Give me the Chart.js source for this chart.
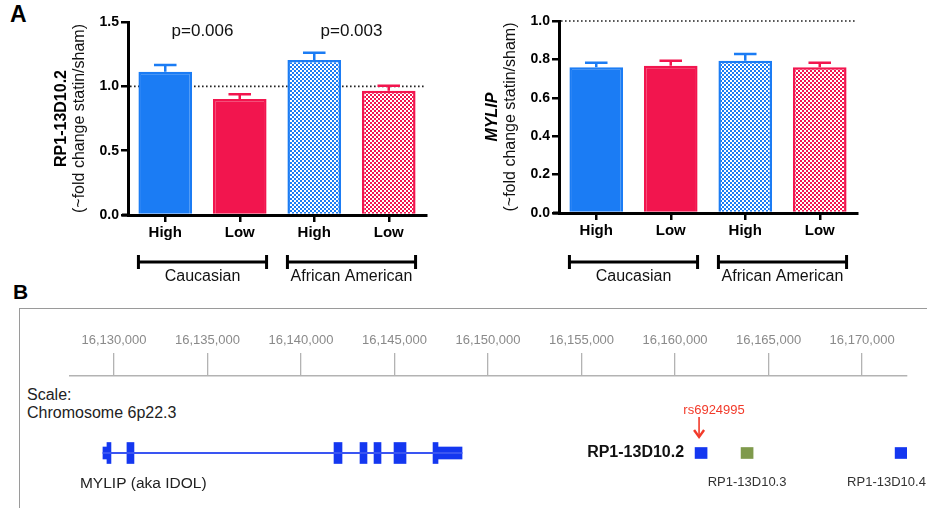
<!DOCTYPE html>
<html>
<head>
<meta charset="utf-8">
<script src="https://cdn.jsdelivr.net/npm/chart.js@4.4.1/dist/chart.umd.min.js"></script>
<style>
  html, body { margin: 0; padding: 0; background: #fff; }
  body { width: 927px; height: 508px; position: relative; overflow: hidden;
         font-family: "Liberation Sans", Arial, sans-serif; }
  canvas { position: absolute; }
  .txt { position: absolute; line-height: 1; white-space: nowrap; color: #111; }
  #box { position: absolute; left: 19px; top: 308px; width: 920px; height: 220px;
         border-left: 1.5px solid #9a9a9a; border-top: 1.5px solid #9a9a9a; }
</style>
</head>
<body>
<div id="box"></div>
<div class="txt" style="left:10px;top:3px;font-size:23px;font-weight:bold;color:#000">A</div>
<div class="txt" style="left:13px;top:281px;font-size:21px;font-weight:bold;color:#000">B</div>
<div class="txt" style="left:27px;top:387px;font-size:16px;color:#222">Scale:</div>
<div class="txt" style="left:27px;top:405px;font-size:16px;color:#222">Chromosome 6p22.3</div>
<canvas id="c1" width="450" height="290" style="left:0;top:0"></canvas>
<canvas id="c2" width="467" height="290" style="left:460px;top:0"></canvas>
<canvas id="c3" width="927" height="208" style="left:0;top:300px"></canvas>
<script>
// ---------- Panel A data ----------
const categories   = ['High', 'Low', 'High', 'Low'];
const groupLabels  = ['Caucasian', 'African American'];
const rpValues     = [1.113, 0.902, 1.204, 0.965];
const rpErrors     = [0.053, 0.036, 0.057, 0.040];
const rpTicks      = [0, 0.5, 1.0, 1.5];
const rpPLabels    = ['p=0.006', 'p=0.003'];
const mylipValues  = [0.759, 0.767, 0.793, 0.759];
const mylipErrors  = [0.024, 0.026, 0.035, 0.024];
const mylipTicks   = [0, 0.2, 0.4, 0.6, 0.8, 1.0];

// ---------- Panel B data ----------
const genomeTicks  = [16130000, 16135000, 16140000, 16145000, 16150000, 16155000, 16160000, 16165000, 16170000];
const genomeRange  = [16127650, 16172400];
const mylipSpan    = [16129412, 16148610];
const mylipUTRs    = [[16129412, 16129640], [16147326, 16148610]];
const mylipExons   = [[16129626, 16129840], [16130695, 16131070], [16141765, 16142193], [16143155, 16143529],
                      [16143904, 16144278], [16144973, 16145615], [16147059, 16147326]];
const rp2Locus     = [16161070, 16161711];
const rp3Locus     = [16163529, 16164171];
const rp4Locus     = [16171765, 16172406];
const snpName      = 'rs6924995';
const snpPos       = 16161283;
const TRACK        = 5;

Chart.defaults.font.family = '"Liberation Sans", Arial, sans-serif';
Chart.defaults.color = '#000';

const BLUE = '#1b7cf4', RED = '#f2154e';
const FONT = '"Liberation Sans", Arial, sans-serif';

function checker(ctx, color) {
  const c = document.createElement('canvas');
  c.width = 4; c.height = 4;
  const g = c.getContext('2d');
  g.fillStyle = '#fff'; g.fillRect(0, 0, 4, 4);
  g.fillStyle = color; g.fillRect(0, 0, 2, 2); g.fillRect(2, 2, 2, 2);
  return ctx.createPattern(c, 'repeat');
}

function panelA(id, values, errors, ticks, yMax, padding, yWidth, xHeight,
                titleMain, italic, pLabels, pY, brOff, lblOff) {
  const ctx = document.getElementById(id).getContext('2d');
  const fills = [BLUE, RED, checker(ctx, BLUE), checker(ctx, RED)];
  const edges = [BLUE, RED, BLUE, RED];
  const decor = {
    id: 'decor',
    beforeDatasetsDraw(chart) {
      const c = chart.ctx, ca = chart.chartArea, y = chart.scales.y.getPixelForValue(1);
      c.save();
      c.strokeStyle = '#222'; c.lineWidth = 1.6; c.setLineDash([1.6, 2.4]);
      c.beginPath(); c.moveTo(ca.left + 2, y); c.lineTo(ca.right, y); c.stroke();
      c.restore();
    },
    afterDatasetsDraw(chart) {
      const c = chart.ctx, ys = chart.scales.y;
      const meta = chart.getDatasetMeta(0);
      c.save();
      c.lineWidth = 2.5;
      meta.data.forEach((bar, i) => {
        const top = ys.getPixelForValue(values[i] + errors[i]);
        const hw = bar.width * 0.21;
        c.strokeStyle = edges[i];
        c.beginPath();
        c.moveTo(bar.x, bar.y); c.lineTo(bar.x, top);
        c.moveTo(bar.x - hw, top); c.lineTo(bar.x + hw, top);
        c.stroke();
      });
      c.restore();
    },
    afterDraw(chart) {
      const c = chart.ctx, ca = chart.chartArea, ys = chart.scales.y;
      const meta = chart.getDatasetMeta(0).data;
      c.save();
      // short extension of the x axis line left of the y axis
      c.strokeStyle = '#000'; c.lineWidth = 3;
      c.beginPath(); c.moveTo(ca.left - 6, ca.bottom); c.lineTo(ca.left, ca.bottom); c.stroke();
      // group brackets
      c.fillStyle = '#111';
      for (let g = 0; g < groupLabels.length; g++) {
        const a = meta[2 * g], b = meta[2 * g + 1];
        const x1 = a.x - a.width / 2, x2 = b.x + b.width / 2, y = ca.bottom + brOff;
        c.beginPath();
        c.moveTo(x1, y); c.lineTo(x2, y);
        c.moveTo(x1, y - 7); c.lineTo(x1, y + 7);
        c.moveTo(x2, y - 7); c.lineTo(x2, y + 7);
        c.stroke();
        c.font = '16px ' + FONT; c.textAlign = 'center'; c.textBaseline = 'middle';
        c.fillText(groupLabels[g], (x1 + x2) / 2, ca.bottom + lblOff);
      }
      // p-values
      if (pLabels) {
        c.font = '17px ' + FONT; c.fillStyle = '#111';
        for (let g = 0; g < pLabels.length; g++) {
          const x = (meta[2 * g].x + meta[2 * g + 1].x) / 2;
          c.fillText(pLabels[g], x, ys.getPixelForValue(pY));
        }
      }
      // y titles
      c.translate(ca.left - 66, (ca.top + ca.bottom) / 2);
      c.rotate(-Math.PI / 2);
      c.textAlign = 'center'; c.textBaseline = 'middle'; c.fillStyle = '#000';
      c.font = (italic ? 'italic ' : '') + 'bold 16px ' + FONT;
      c.fillText(titleMain, 0, 0);
      c.font = '16px ' + FONT; c.fillStyle = '#111';
      c.fillText('(~fold change statin/sham)', 0, 18);
      c.restore();
    }
  };
  return new Chart(ctx, {
    type: 'bar',
    data: { labels: categories, datasets: [{
      data: values, backgroundColor: fills, borderColor: edges, borderWidth: 2.5,
      categoryPercentage: 1, barPercentage: 0.72, borderSkipped: 'start'
    }]},
    options: {
      responsive: false, animation: false,
      layout: { padding },
      plugins: { legend: { display: false }, tooltip: { enabled: false } },
      scales: {
        x: {
          grid: { drawOnChartArea: false, offset: false, tickLength: 7, color: '#000', lineWidth: 2.5 },
          border: { color: '#000', width: 3 },
          ticks: { font: { size: 15, weight: 'bold' }, color: '#000', padding: 2 },
          afterFit(s) { s.height = xHeight; }
        },
        y: {
          min: 0, max: yMax,
          afterBuildTicks(s) { s.ticks = ticks.map(v => ({ value: v })); },
          grid: { drawOnChartArea: false, tickLength: 7, color: '#000', lineWidth: 2.5 },
          border: { color: '#000', width: 3 },
          ticks: { font: { size: 14, weight: 'bold' }, color: '#000', padding: 2,
                   callback: v => Number(v).toFixed(1) },
          afterFit(s) { s.width = yWidth; }
        }
      }
    },
    plugins: [decor]
  });
}

panelA('c1', rpValues, rpErrors, rpTicks, 1.5, { left: 0, top: 22, right: 24, bottom: 0 }, 128, 75,
       'RP1-13D10.2', false, rpPLabels, 1.43, 47, 62);
panelA('c2', mylipValues, mylipErrors, mylipTicks, 1.0, { left: 0, top: 21, right: 70, bottom: 0 }, 99, 77,
       'MYLIP', true, null, 0, 49, 64);

// ---------- Panel B: genome track ----------
const EXON_BLUE = '#1437f0', LINE_BLUE = '#3a55f2', GREEN = '#7f9a4c';
const pt = arr => ({ x: arr, y: TRACK });
const trackDecor = {
  id: 'trackDecor',
  afterDatasetsDraw(chart) {
    const c = chart.ctx, xs = chart.scales.x, ys = chart.scales.y;
    const ty = ys.getPixelForValue(TRACK);
    c.save();
    c.textBaseline = 'middle';
    c.font = 'bold 16px ' + FONT; c.fillStyle = '#111'; c.textAlign = 'right';
    c.fillText('RP1-13D10.2', xs.getPixelForValue(rp2Locus[0]) - 11, ty);
    c.font = '13px ' + FONT; c.fillStyle = '#333'; c.textAlign = 'center';
    c.fillText('RP1-13D10.3', xs.getPixelForValue((rp3Locus[0] + rp3Locus[1]) / 2), ty + 29);
    c.textAlign = 'left';
    c.fillText('RP1-13D10.4', xs.getPixelForValue(rp4Locus[0]) - 48, ty + 29);
    c.font = '15.5px ' + FONT; c.fillStyle = '#222';
    c.fillText('MYLIP (aka IDOL)', xs.getPixelForValue(mylipSpan[0]) - 23, ty + 31);
    // SNP
    const sx = xs.getPixelForValue(snpPos);
    c.fillStyle = '#f23a2a'; c.strokeStyle = '#f23a2a';
    c.font = '13px ' + FONT; c.textAlign = 'center';
    c.fillText(snpName, sx + 15, ty - 43);
    c.lineWidth = 1.6;
    c.beginPath(); c.moveTo(sx, ty - 36); c.lineTo(sx, ty - 16); c.stroke();
    c.lineWidth = 2.4;
    c.beginPath(); c.moveTo(sx - 5, ty - 23); c.lineTo(sx, ty - 16); c.lineTo(sx + 5, ty - 23); c.stroke();
    c.restore();
  }
};
new Chart(document.getElementById('c3').getContext('2d'), {
  type: 'bar',
  data: { datasets: [
    { label: 'intron', data: [pt(mylipSpan)], barThickness: 1.5, backgroundColor: LINE_BLUE, grouped: false },
    { label: 'UTR', data: mylipUTRs.map(pt), barThickness: 12, backgroundColor: EXON_BLUE, grouped: false },
    { label: 'exons', data: mylipExons.map(pt), barThickness: 21, backgroundColor: EXON_BLUE, grouped: false },
    { label: 'RP1-13D10.2', data: [pt(rp2Locus)], barThickness: 11, backgroundColor: EXON_BLUE, grouped: false },
    { label: 'RP1-13D10.3', data: [pt(rp3Locus)], barThickness: 11, backgroundColor: GREEN, grouped: false },
    { label: 'RP1-13D10.4', data: [pt(rp4Locus)], barThickness: 11, backgroundColor: EXON_BLUE, grouped: false }
  ]},
  options: {
    indexAxis: 'y', responsive: false, animation: false,
    layout: { padding: { left: 70, right: 20, top: 0, bottom: 0 } },
    plugins: { legend: { display: false }, tooltip: { enabled: false } },
    scales: {
      x: {
        type: 'linear', position: 'top', min: genomeRange[0], max: genomeRange[1],
        afterBuildTicks(s) { s.ticks = genomeTicks.map(v => ({ value: v })); },
        afterFit(s) { s.height = 76; },
        grid: { drawOnChartArea: false, tickLength: 23, color: '#b3b3b3', lineWidth: 1.3 },
        border: { display: true, color: '#b3b3b3', width: 1.6 },
        ticks: { font: { size: 13 }, color: '#8a8a8a', padding: 5, maxRotation: 0, autoSkip: false,
                 callback: v => Number(v).toLocaleString('en-US') }
      },
      y: { type: 'linear', min: 0, max: 12, display: false, offset: false }
    }
  },
  plugins: [trackDecor]
});
</script>
</body>
</html>
